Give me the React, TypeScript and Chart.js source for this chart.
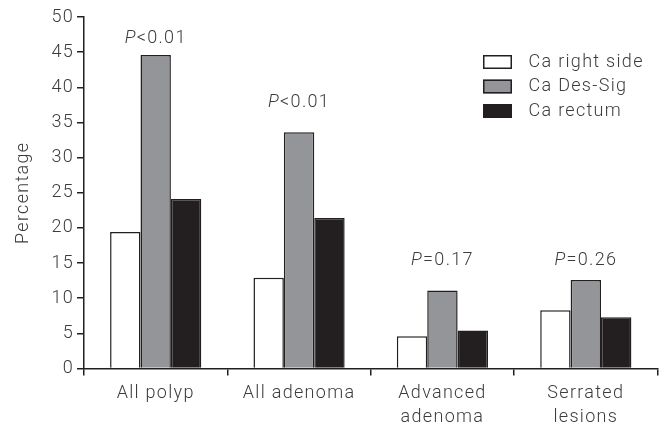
import React, { useEffect, useRef } from "react";
import { Chart, registerables } from "chart.js";

Chart.register(...registerables);

const categories: string[][] = [["All polyp"], ["All adenoma"], ["Advanced", "adenoma"], ["Serrated", "lesions"]];
const seriesNames = ["Ca right side", "Ca Des-Sig", "Ca rectum"];
const caRightSide = [19.4, 12.9, 4.6, 8.3];
const caDesSig = [44.6, 33.6, 11.1, 12.6];
const caRectum = [24.1, 21.4, 5.4, 7.3];
const pOperators = ["<", "<", "=", "="];
const pValues = ["0.01", "0.01", "0.17", "0.26"];
const pLabelLevels = [47, 37.8, 15.4, 15.4];
const yTicks = [0, 5, 10, 15, 20, 25, 30, 35, 40, 45, 50];

const FONT = "Roboto, 'Liberation Sans', Arial, sans-serif";
const SIZE = 18;
const TEXT = "#3c3c3c";
const INK = "#231f20";
const fills = ["#ffffff", "#939598", "#231f20"];
const SPACING = "1.3px";

const spacingPlugin = {
  id: "letterSpacing",
  beforeUpdate(chart: any) {
    chart.ctx.letterSpacing = SPACING;
  },
  beforeDraw(chart: any) {
    chart.ctx.letterSpacing = SPACING;
  },
};

const pLabelPlugin = {
  id: "pLabels",
  afterDatasetsDraw(chart: any) {
    const ctx = chart.ctx;
    const meta = chart.getDatasetMeta(1);
    const y = chart.scales.y;
    ctx.save();
    ctx.letterSpacing = SPACING;
    ctx.fillStyle = TEXT;
    ctx.textBaseline = "middle";
    ctx.textAlign = "left";
    categories.forEach((_, i) => {
      const el = meta.data[i];
      if (!el) return;
      const cx = el.x;
      const cy = y.getPixelForValue(pLabelLevels[i]);
      const rest = pOperators[i] + pValues[i];
      ctx.font = `italic 300 ${SIZE}px ${FONT}`;
      const wP = ctx.measureText("P").width;
      ctx.font = `300 ${SIZE}px ${FONT}`;
      const wR = ctx.measureText(rest).width;
      const x0 = cx - (wP + wR) / 2;
      ctx.font = `italic 300 ${SIZE}px ${FONT}`;
      ctx.fillText("P", x0, cy);
      ctx.font = `300 ${SIZE}px ${FONT}`;
      ctx.fillText(rest, x0 + wP, cy);
    });
    ctx.restore();
  },
};

const legendPlugin = {
  id: "customLegend",
  afterDraw(chart: any) {
    const ctx = chart.ctx;
    const area = chart.chartArea;
    const boxX = area.left + 399;
    const textX = boxX + 45.5;
    const top = area.top + 38;
    const step = 24.5;
    ctx.save();
    ctx.letterSpacing = SPACING;
    ctx.font = `300 ${SIZE}px ${FONT}`;
    ctx.textBaseline = "middle";
    ctx.textAlign = "left";
    chart.data.datasets.forEach((ds: any, i: number) => {
      const by = top + i * step;
      ctx.fillStyle = ds.backgroundColor;
      ctx.fillRect(boxX, by, 29, 14);
      ctx.strokeStyle = INK;
      ctx.lineWidth = 1.5;
      ctx.strokeRect(boxX + 0.75, by + 0.75, 27.5, 12.5);
      ctx.fillStyle = TEXT;
      ctx.fillText(ds.label, textX, by + 7);
    });
    ctx.restore();
  },
};

export default function App() {
  const ref = useRef<HTMLCanvasElement | null>(null);
  useEffect(() => {
    if (!ref.current) return;
    const series = [caRightSide, caDesSig, caRectum];
    const chart = new Chart(ref.current, {
      type: "bar",
      data: {
        labels: categories,
        datasets: series.map((d, i) => ({
          label: seriesNames[i],
          data: d,
          backgroundColor: fills[i],
          borderColor: INK,
          borderWidth: 1.5,
          barPercentage: 1,
          categoryPercentage: 0.636,
        })),
      },
      options: {
        responsive: false,
        animation: false,
        layout: { padding: { top: 17, right: 6.5, bottom: 0, left: 0 } },
        plugins: { legend: { display: false }, tooltip: { enabled: false } },
        scales: {
          x: {
            grid: {
              offset: true,
              drawOnChartArea: false,
              drawTicks: true,
              tickLength: 7,
              color: INK,
              lineWidth: 1.5,
            },
            border: { display: true, color: INK, width: 1.5 },
            ticks: {
              color: TEXT,
              padding: 6,
              maxRotation: 0,
              autoSkip: false,
              font: { family: FONT, size: SIZE, weight: "300", lineHeight: 1.35 },
            },
            afterFit(scale: any) {
              scale.height = 60.5;
            },
          },
          y: {
            min: 0,
            max: 50,
            afterBuildTicks(scale: any) {
              scale.ticks = yTicks.map((v) => ({ value: v }));
            },
            grid: {
              drawOnChartArea: false,
              drawTicks: true,
              tickLength: 7,
              color: INK,
              lineWidth: 1.5,
            },
            border: { display: true, color: INK, width: 1.5 },
            ticks: {
              color: TEXT,
              padding: 3,
              font: { family: FONT, size: SIZE, weight: "300" },
            },
            title: {
              display: true,
              text: "Percentage",
              color: TEXT,
              padding: { top: 13, bottom: 0 },
              font: { family: FONT, size: SIZE, weight: "300" },
            },
            afterFit(scale: any) {
              scale.width = 84;
            },
          },
        },
      },
      plugins: [spacingPlugin, pLabelPlugin, legendPlugin],
    });
    return () => chart.destroy();
  }, []);
  return (
    <div style={{ position: "absolute", left: 0, top: 0, width: 664, height: 429 }}>
      <canvas ref={ref} width={664} height={429} style={{ display: "block" }} />
    </div>
  );
}
